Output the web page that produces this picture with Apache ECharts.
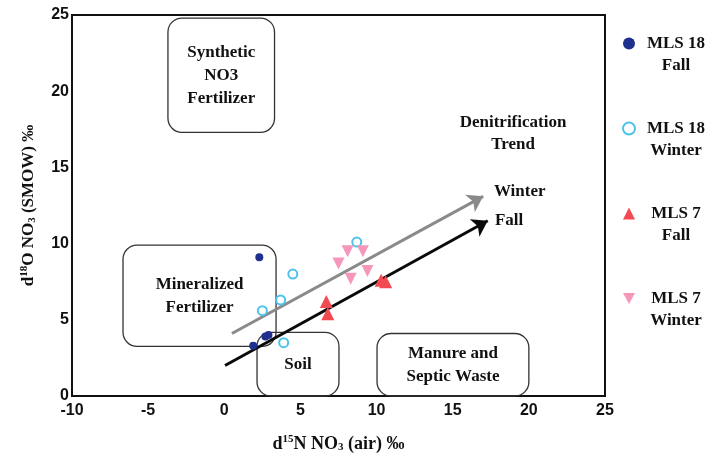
<!DOCTYPE html>
<html>
<head>
<meta charset="utf-8">
<script src="https://cdn.jsdelivr.net/npm/echarts@6/dist/echarts.min.js"></script>
<style>html,body{margin:0;padding:0;background:#fff}#c{width:723px;height:461px}</style>
</head>
<body>
<div id="c"></div>
<script>
// ---- data ----
const mls18Fall   = [[2.3, 9.1], [1.9, 3.3], [2.7, 3.9], [2.9, 4.0]];
const mls18Winter = [[2.5, 5.6], [3.7, 6.3], [4.5, 8.0], [8.7, 10.1], [3.9, 3.5]];
const mls7Fall    = [[6.7, 6.2], [6.8, 5.4], [10.3, 7.6], [10.6, 7.5]];
const mls7Winter  = [[7.5, 8.7], [8.1, 9.5], [9.1, 9.5], [8.3, 7.7], [9.4, 8.2]];
const trendWinter = [[0.5, 4.1], [17.0, 13.1]];
const trendFall   = [[0.05, 2.0], [17.3, 11.5]];
const boxLabels   = ['Synthetic\nNO3\nFertilizer', 'Mineralized\nFertilizer', 'Soil', 'Manure and\nSeptic Waste'];
const boxExtents  = [[-3.7, 17.3, 3.3, 24.8], [-6.65, 3.26, 3.4, 9.9], [2.15, 0, 7.53, 4.18], [10.03, 0, 20.0, 4.1]];
const noteLabels  = ['Denitrification\nTrend', 'Winter', 'Fall'];
const notePoints  = [[18.96, 17.23], [19.4, 13.4], [18.7, 11.5]];
const seriesNames = ['MLS 18 Fall', 'MLS 18 Winter', 'MLS 7 Fall', 'MLS 7 Winter'];

const SERIF = '"Liberation Serif", "Times New Roman", serif';
const SANS = '"Liberation Sans", Arial, sans-serif';

const chart = echarts.init(document.getElementById('c'));

const boxData = boxExtents.map((b, i) => b.concat([i]));
const noteData = notePoints.map((p, i) => p.concat([i]));

function titleRich(size) {
  return {
    t: { fontFamily: SERIF, fontWeight: 'bold', fontSize: size, color: '#111', lineHeight: 24, verticalAlign: 'middle' },
    s: { fontFamily: SERIF, fontWeight: 'bold', fontSize: Math.round(size * 0.62), color: '#111', lineHeight: 24, verticalAlign: 'top', padding: [2, 0, 0, 0] },
    b: { fontFamily: SERIF, fontWeight: 'bold', fontSize: Math.round(size * 0.62), color: '#111', lineHeight: 24, verticalAlign: 'bottom', padding: [0, 0, 3, 0] }
  };
}

chart.setOption({
  animation: false,
  backgroundColor: '#fff',
  grid: { left: 72, right: 118, top: 15, bottom: 63, show: true, borderColor: '#111', borderWidth: 2, containLabel: false },
  xAxis: {
    type: 'value', min: -10, max: 25, interval: 5,
    axisLine: { show: true, onZero: false, lineStyle: { color: '#111', width: 2 } },
    axisTick: { show: false }, splitLine: { show: false },
    axisLabel: { color: '#111', fontFamily: SANS, fontWeight: 'bold', fontSize: 16, margin: 7 },
    name: '{t|d}{s|15}{t|N NO}{b|3}{t| (air) ‰}',
    nameLocation: 'middle', nameGap: 36,
    nameTextStyle: { rich: titleRich(18) }
  },
  yAxis: {
    type: 'value', min: 0, max: 25, interval: 5,
    axisLine: { show: true, onZero: false, lineStyle: { color: '#111', width: 2 } },
    axisTick: { show: false }, splitLine: { show: false },
    axisLabel: { color: '#111', fontFamily: SANS, fontWeight: 'bold', fontSize: 16, margin: 3 },
    name: '{t|d}{s|18}{t|O NO}{b|3}{t| (SMOW) ‰}',
    nameLocation: 'middle', nameGap: 30, nameRotate: 90,
    nameTextStyle: { rich: titleRich(17) }
  },
  legend: {
    orient: 'vertical', left: 617, top: 8, itemGap: 24,
    itemWidth: 12, itemHeight: 12,
    data: [
      { name: seriesNames[0], icon: 'circle' },
      { name: seriesNames[1], icon: 'circle' },
      { name: seriesNames[2], icon: 'triangle' },
      { name: seriesNames[3], icon: 'path://M0,0 L10,0 L5,9 Z' }
    ],
    formatter: n => '{e| }\n{a|' + n.replace(/ (Fall|Winter)$/, '}\n{a|$1}'),
    textStyle: {
      rich: {
        e: { fontSize: 17, lineHeight: 22, width: 72 },
        a: { fontFamily: SERIF, fontWeight: 'bold', fontSize: 17, color: '#111', lineHeight: 22, width: 72, align: 'center' }
      }
    }
  },
  series: [
    {
      type: 'custom', name: 'boxes', z: 1, silent: true,
      data: boxData,
      encode: { x: [0, 2], y: [1, 3] },
      renderItem: (params, api) => {
        const p1 = api.coord([api.value(0), api.value(3)]);
        const p2 = api.coord([api.value(2), api.value(1)]);
        const label = boxLabels[api.value(4)];
        return {
          type: 'group',
          children: [
            { type: 'rect', shape: { x: p1[0], y: p1[1], width: p2[0] - p1[0], height: p2[1] - p1[1], r: 14 },
              style: { fill: 'rgba(255,255,255,0)', stroke: '#333', lineWidth: 1.3 } },
            { type: 'text', style: { text: label, x: (p1[0] + p2[0]) / 2, y: (p1[1] + p2[1]) / 2,
              align: 'center', verticalAlign: 'middle', fill: '#111', lineHeight: 23,
              font: 'bold 17px ' + SERIF } }
          ]
        };
      }
    },
    {
      type: 'custom', name: 'notes', z: 1, silent: true,
      data: noteData,
      renderItem: (params, api) => {
        const p = api.coord([api.value(0), api.value(1)]);
        return { type: 'text', style: { text: noteLabels[api.value(2)], x: p[0], y: p[1],
          align: 'center', verticalAlign: 'middle', fill: '#111', lineHeight: 22,
          font: 'bold 17px ' + SERIF } };
      }
    },
    {
      type: 'lines', coordinateSystem: 'cartesian2d', z: 2, silent: true,
      symbol: ['none', 'arrow'], symbolSize: 15,
      data: [
        { coords: trendWinter, lineStyle: { color: '#8a8a8a', width: 3, opacity: 1 } },
        { coords: trendFall, lineStyle: { color: '#0a0a0a', width: 3, opacity: 1 } }
      ]
    },
    { type: 'scatter', name: seriesNames[0], z: 3, data: mls18Fall, symbol: 'circle', symbolSize: 8,
      itemStyle: { color: '#1e2f8e', opacity: 1 } },
    { type: 'scatter', name: seriesNames[1], z: 3, data: mls18Winter, symbol: 'circle', symbolSize: 9,
      itemStyle: { color: '#ffffff', borderColor: '#4ec3ea', borderWidth: 2, opacity: 1 } },
    { type: 'scatter', name: seriesNames[2], z: 3, data: mls7Fall, symbol: 'triangle', symbolSize: 13,
      itemStyle: { color: '#f24a52', opacity: 1 } },
    { type: 'scatter', name: seriesNames[3], z: 3, data: mls7Winter, symbol: 'triangle', symbolRotate: 180, symbolSize: 12,
      itemStyle: { color: '#f596bb', opacity: 1 } }
  ]
});
</script>
</body>
</html>
